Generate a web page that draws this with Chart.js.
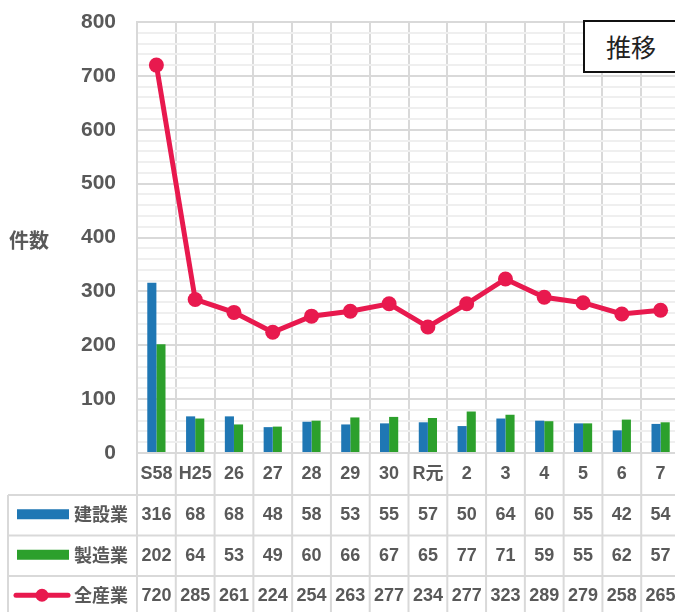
<!DOCTYPE html>
<html><head><meta charset="utf-8">
<script src="https://cdn.jsdelivr.net/npm/chart.js@4/dist/chart.umd.min.js"></script>
<style>
html,body{margin:0;padding:0;background:#fff;overflow:hidden;width:675px;height:612px}
#wrap{position:relative;width:675px;height:612px;overflow:hidden}
canvas{position:absolute;left:0;top:0}
#badge{position:absolute;left:583px;top:20px;width:120px;height:49px;border:2px solid #111;background:#fff;
 font-family:'Noto Sans CJK JP',sans-serif;font-size:25px;color:#222;line-height:49px;padding-left:21px;box-sizing:content-box}
</style>
</head><body>
<div id="wrap"><canvas id="c" width="680" height="612" style="width:680px;height:612px"></canvas><div id="badge">推移</div></div>
<script>
const categories = ['S58','H25','26','27','28','29','30','R元','2','3','4','5','6','7'];
const construction = [316,68,68,48,58,53,55,57,50,64,60,55,42,54];
const manufacturing = [202,64,53,49,60,66,67,65,77,71,59,55,62,57];
const allIndustries = [720,285,261,224,254,263,277,234,277,323,289,279,258,265];
const seriesNames = ['建設業','製造業','全産業'];
const yAxisTitle = '件数';

const FONT = "'Liberation Sans','Noto Sans CJK JP',sans-serif";
const BLUE = '#1f77b4', GREEN = '#2ca02c', RED = '#e8194e';
const TEXT = '#595959', GRID = '#d9d9d9', MINOR = '#efefef';

const tablePlugin = {
  id: 'tablePlugin',
  afterDraw(chart) {
    const ctx = chart.ctx, xs = chart.scales.x, area = chart.chartArea;
    const H = chart.height, W = chart.width;
    const n = categories.length;
    const step = xs.getPixelForValue(1) - xs.getPixelForValue(0);
    const tableTop = area.bottom + 42;
    const rowH = 40.5;
    ctx.save();
    ctx.strokeStyle = GRID; ctx.lineWidth = 2;
    for (let i = 0; i <= n; i++) {
      const x = xs.getPixelForValue(0) - step/2 + i*step;
      ctx.beginPath(); ctx.moveTo(x, area.bottom); ctx.lineTo(x, H); ctx.stroke();
    }
    for (let r = 0; r <= 3; r++) {
      const y = tableTop + r*rowH;
      ctx.beginPath(); ctx.moveTo(8, y); ctx.lineTo(W, y); ctx.stroke();
    }
    ctx.beginPath(); ctx.moveTo(8, tableTop); ctx.lineTo(8, H); ctx.stroke();

    const rows = [construction, manufacturing, allIndustries];
    const colors = [BLUE, GREEN, RED];
    ctx.textBaseline = 'middle';
    for (let r = 0; r < 3; r++) {
      const cy = tableTop + r*rowH + rowH/2 - 1;
      if (r < 2) {
        ctx.fillStyle = colors[r];
        ctx.fillRect(17, cy - 5, 52, 10);
      } else {
        ctx.strokeStyle = colors[r]; ctx.lineWidth = 5; ctx.lineCap = 'round';
        ctx.beginPath(); ctx.moveTo(16, cy); ctx.lineTo(68, cy); ctx.stroke();
        ctx.fillStyle = colors[r];
        ctx.beginPath(); ctx.arc(42, cy, 6.5, 0, Math.PI*2); ctx.fill();
      }
      ctx.fillStyle = TEXT;
      ctx.font = "bold 18px 'Noto Sans CJK JP',sans-serif";
      ctx.textAlign = 'left';
      ctx.fillText(seriesNames[r], 74, cy);
      ctx.font = 'bold 18px ' + FONT;
      ctx.textAlign = 'center';
      rows[r].forEach((v, i) => ctx.fillText(String(v), xs.getPixelForValue(i), cy + 1));
    }
    ctx.font = "bold 20px 'Noto Sans CJK JP',sans-serif";
    ctx.textAlign = 'center';
    ctx.fillStyle = TEXT;
    ctx.fillText(yAxisTitle, 29, 240);
    ctx.restore();
  }
};

new Chart(document.getElementById('c'), {
  type: 'bar',
  data: {
    labels: categories,
    datasets: [
      { type: 'line', label: seriesNames[2], data: allIndustries, borderColor: RED, backgroundColor: RED,
        borderWidth: 5, pointRadius: 7.5, pointHoverRadius: 7.5, pointBackgroundColor: RED, pointBorderWidth: 0,
        tension: 0, order: 0 },
      { label: seriesNames[0], data: construction, backgroundColor: BLUE, order: 1,
        categoryPercentage: 0.47, barPercentage: 1 },
      { label: seriesNames[1], data: manufacturing, backgroundColor: GREEN, order: 1,
        categoryPercentage: 0.47, barPercentage: 1 }
    ]
  },
  options: {
    responsive: false, animation: false, devicePixelRatio: 1,
    layout: { autoPadding: false, padding: { top: 22, left: 0, right: 0, bottom: 0 } },
    plugins: { legend: { display: false }, tooltip: { enabled: false } },
    scales: {
      x: {
        grid: { color: GRID, lineWidth: 2, offset: true, drawTicks: false },
        border: { color: GRID, width: 2 },
        ticks: { font: { size: 18, weight: 'bold', family: FONT }, color: TEXT, padding: 10, maxRotation: 0, autoSkip: false },
        afterFit(s) { s.height = 159; s.paddingLeft = 0; s.paddingRight = 0; }
      },
      y: {
        min: 0, max: 800,
        grid: { color: c => (c.tick && c.tick.value % 100 === 0) ? GRID : MINOR, lineWidth: 2, drawTicks: false },
        border: { color: GRID, width: 2 },
        ticks: { stepSize: 20, autoSkip: false, callback: v => (v % 100 === 0 ? String(v) : ''),
                 font: { size: 21, weight: 'bold', family: FONT }, color: TEXT, padding: 21 },
        afterFit(s) { s.width = 137; s.paddingTop = 0; s.paddingBottom = 0; }
      }
    }
  },
  plugins: [tablePlugin]
});
</script>
</body></html>
